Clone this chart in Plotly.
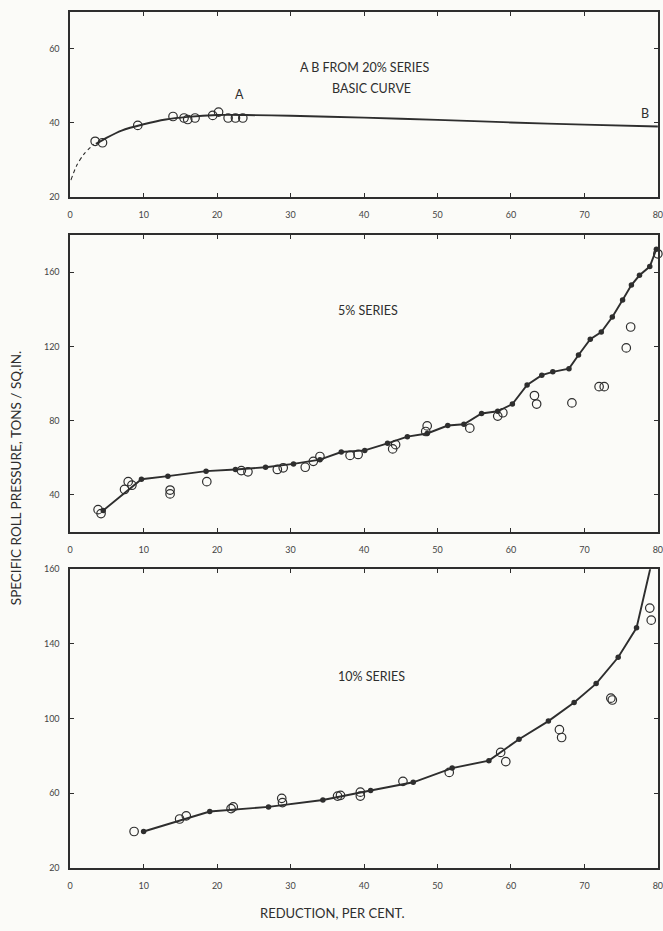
import plotly.graph_objects as go

# ---------------- data ----------------
# Top panel: basic curve taken from the 20% series
basic_obs_x = [3.4, 4.4, 9.2, 14.0, 15.5, 16.0, 17.0, 19.4, 20.2, 21.5, 22.5, 23.5]
basic_obs_y = [35.0, 34.6, 39.3, 41.7, 41.3, 40.9, 41.3, 42.0, 42.9, 41.3, 41.3, 41.3]
basic_curve_x = [3.5, 5, 7, 10, 13, 16, 20, 24, 30, 40, 50, 60, 70, 80]
basic_curve_y = [34.3, 36.0, 37.9, 39.6, 40.9, 41.6, 42.1, 42.1, 41.9, 41.4, 40.8, 40.1, 39.5, 39.0]
basic_extrap_x = [0.1, 0.9, 1.9, 3.2]
basic_extrap_y = [24.5, 28.5, 31.6, 34.2]

# Middle panel: 5% series
s5_line_x = [4.5, 9.7, 13.3, 18.5, 22.5, 26.6, 30.4, 34.0, 36.9, 40.1, 43.2, 45.9, 48.6,
             51.4, 53.6, 56.0, 58.2, 60.2, 62.2, 64.2, 65.7, 67.9, 69.2, 70.8, 72.3,
             73.8, 75.2, 76.4, 77.5, 78.9, 79.8]
s5_line_y = [31.5, 48.3, 50.0, 52.7, 53.6, 54.8, 56.6, 58.9, 63.0, 63.9, 67.7, 71.3, 73.0,
             77.3, 78.0, 83.8, 85.0, 88.9, 99.2, 104.5, 106.3, 108.0, 115.4, 123.9, 127.8,
             135.9, 145.1, 153.1, 158.4, 163.1, 172.5]
s5_obs_x = [3.8, 4.2, 7.4, 7.9, 8.4, 13.6, 13.6, 18.6, 23.3, 24.2, 28.2, 29.0, 32.0, 33.1,
            34.0, 38.1, 39.2, 43.9, 44.3, 48.4, 48.6, 54.4, 58.2, 58.9, 63.2, 63.5, 68.3,
            72.0, 72.7, 75.7, 76.3, 80.0]
s5_obs_y = [31.9, 29.8, 42.8, 47.0, 45.1, 42.5, 40.4, 47.0, 53.0, 52.3, 53.6, 54.5, 54.8, 58.0,
            60.6, 61.2, 61.7, 64.7, 67.0, 74.1, 77.1, 75.9, 82.4, 84.2, 93.5, 88.9, 89.5,
            98.3, 98.3, 119.2, 130.5, 170.0]

# Bottom panel: 10% series
s10_line_x = [10.0, 19.0, 27.0, 34.4, 40.9, 46.7, 52.0, 57.0, 61.1, 65.1, 68.6, 71.6, 74.6, 77.1, 79.1]
s10_line_y = [39.4, 50.1, 52.6, 56.3, 61.4, 65.8, 73.4, 77.4, 88.9, 98.6, 108.6, 118.7, 132.8, 148.6, 182.6]
s10_obs_x = [8.7, 14.9, 15.8, 21.9, 22.2, 28.8, 28.9, 36.4, 36.8, 39.5, 39.5, 45.3, 51.6,
             58.6, 59.3, 66.6, 66.9, 73.6, 73.8, 78.9, 79.1]
s10_obs_y = [39.4, 46.1, 47.8, 51.7, 52.6, 57.2, 54.9, 58.4, 58.8, 60.5, 58.4, 66.3, 71.1,
             81.8, 76.9, 94.0, 89.8, 110.9, 109.9, 159.2, 152.7]

x_ticks = [0, 10, 20, 30, 40, 50, 60, 70, 80]
top_y_ticks = [20, 40, 60]
mid_y_ticks = [40, 80, 120, 160]
bot_y_ticks = [20, 60, 100, 140, 180]
bot_y_ticktext = ["20", "60", "100", "140", "160"]

# ---------------- styling ----------------
W, H = 663, 931
INK = "#2e2e2e"
PAPER = "#fbfbf8"
FONT = "Lato"

def py(px):
    return 1 - px / H

x_dom = [68 / W, 1.0]
panels = {
    1: dict(dom=[py(193), py(6)], rng=[20, 70]),
    2: dict(dom=[py(532), py(232)], rng=[20, 180]),
    3: dict(dom=[py(872), py(570)], rng=[20, 180]),
}

fig = go.Figure()

def line(x, y, ax, dash="solid", shape="linear", width=1.9):
    fig.add_trace(go.Scatter(
        x=x, y=y, mode="lines", xaxis=ax[0], yaxis=ax[1],
        line=dict(color=INK, width=width, dash=dash, shape=shape, smoothing=0.8),
        hoverinfo="skip", cliponaxis=False, showlegend=False))

def dots(x, y, ax, size=5.5):
    fig.add_trace(go.Scatter(
        x=x, y=y, mode="markers", xaxis=ax[0], yaxis=ax[1],
        marker=dict(color=INK, size=size, line=dict(width=0)),
        cliponaxis=False, showlegend=False))

def rings(x, y, ax, size=8.5):
    fig.add_trace(go.Scatter(
        x=x, y=y, mode="markers", xaxis=ax[0], yaxis=ax[1],
        marker=dict(symbol="circle-open", color=INK, size=size, line=dict(width=1.2, color=INK)),
        cliponaxis=False, showlegend=False))

# top panel
line(basic_extrap_x, basic_extrap_y, ("x", "y"), dash="4px,3px", shape="spline", width=1.1)
line(basic_curve_x, basic_curve_y, ("x", "y"), shape="spline")
rings(basic_obs_x, basic_obs_y, ("x", "y"))

# middle panel
line(s5_line_x, s5_line_y, ("x2", "y2"))
dots(s5_line_x, s5_line_y, ("x2", "y2"))
rings(s5_obs_x, s5_obs_y, ("x2", "y2"))

# bottom panel
line(s10_line_x, s10_line_y, ("x3", "y3"))
dots(s10_line_x, s10_line_y, ("x3", "y3"))
rings(s10_obs_x, s10_obs_y, ("x3", "y3"))

axis_common = dict(
    showgrid=False, zeroline=False, showline=True, linecolor=INK, linewidth=1.6,
    mirror="ticks", ticks="inside", ticklen=4, tickwidth=1, tickcolor=INK,
    tickfont=dict(family=FONT, size=9, color="#444"), ticklabeloverflow="allow",
)

layout = dict(
    width=W, height=H, margin=dict(l=0, r=0, t=0, b=0),
    paper_bgcolor=PAPER, plot_bgcolor=PAPER, showlegend=False,
)
yticks = {1: (top_y_ticks, [str(v) for v in top_y_ticks]),
          2: (mid_y_ticks, [str(v) for v in mid_y_ticks]),
          3: (bot_y_ticks, bot_y_ticktext)}
for i, p in panels.items():
    sx = "" if i == 1 else str(i)
    layout["xaxis" + sx] = dict(
        axis_common, domain=x_dom, range=[0, 80.02], anchor="y" + sx,
        tickvals=x_ticks, ticktext=[str(v) for v in x_ticks], ticklabelstandoff=9)
    layout["yaxis" + sx] = dict(
        axis_common, domain=p["dom"], range=p["rng"], anchor="x" + sx,
        tickvals=yticks[i][0], ticktext=yticks[i][1], ticklabelstandoff=7)
fig.update_layout(**layout)

def label(text, x, y, xref, yref, size=12.5, **kw):
    fig.add_annotation(text=text, x=x, y=y, xref=xref, yref=yref, showarrow=False,
                       xanchor="center", yanchor="middle",
                       font=dict(family=FONT, size=size, color=INK), **kw)

label("A B FROM 20% SERIES", 40.0, 55.0, "x", "y")
label("BASIC CURVE", 41.0, 49.4, "x", "y")
label("A", 23.0, 47.6, "x", "y")
label("B", 78.2, 42.6, "x", "y")
label("5% SERIES", 40.6, 139.5, "x2", "y2")
label("10% SERIES", 41.0, 122.5, "x3", "y3")

label("REDUCTION, PER CENT.", 333 / W, py(918), "paper", "paper", size=13)
label("SPECIFIC ROLL PRESSURE, TONS / SQ.IN.", 14 / W, py(478), "paper", "paper",
      size=13.5, textangle=-90)

fig.write_html("out.html")
